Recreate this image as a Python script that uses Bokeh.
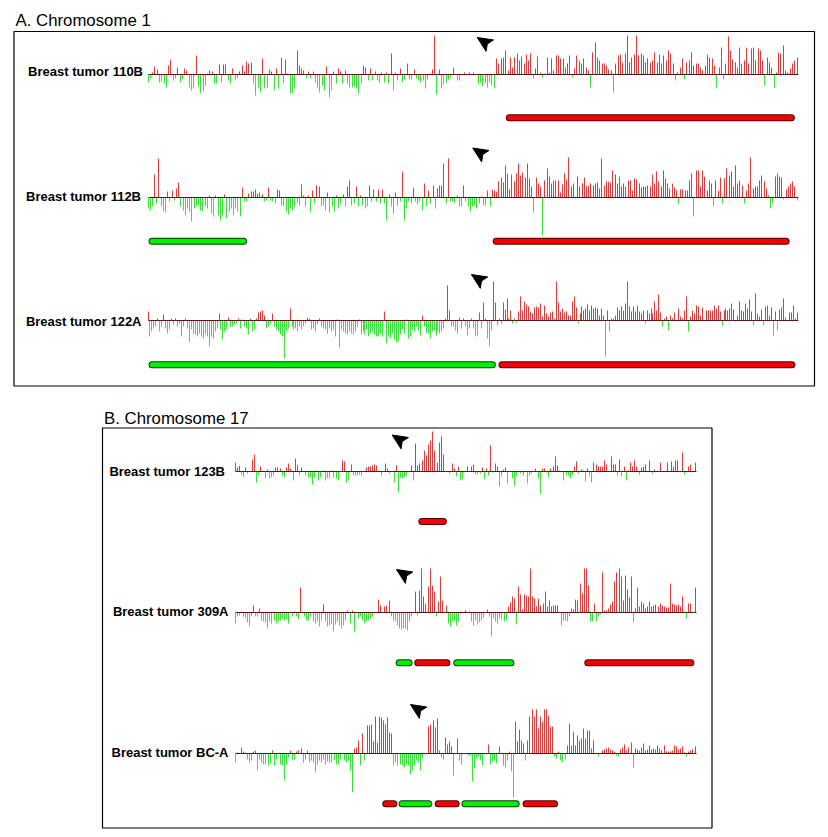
import numpy as np
from bokeh.plotting import figure
from bokeh.models import Range1d
from bokeh.embed import file_html
from bokeh.resources import INLINE
from bokeh.core.properties import value

# ------------------------------------------------------------------ data
panel_titles = ["A. Chromosome 1", "B. Chromosome 17"]
chrom_length_mb = [247.0, 79.0]

track_names = ["Breast tumor 110B", "Breast tumor 112B", "Breast tumor 122A",
               "Breast tumor 123B", "Breast tumor 309A", "Breast tumor BC-A"]
track_panel = [0, 0, 0, 1, 1, 1]

# copy-number signal per clone, ordered along the chromosome (display units)
ratio_110B = [
    -8,-4,2,8,5,-8,-7,-9,-13,9,15,-6,-4,7,-8,-5,6,4,-13,-16,-14,19,-12,-19,-17,-11,1,4,3,-9,
    -9,10,-8,10,10,-6,-9,6,-6,-4,3,9,3,13,11,12,-9,-21,-13,-18,16,-14,-13,5,3,-16,6,-14,17,-9,
    15,1,-19,-19,-13,24,9,6,4,-4,3,-4,3,-8,-13,-18,-11,-16,8,-23,-16,3,-9,6,3,-9,4,-9,-13,-13,
    -12,-14,-19,-9,9,7,-6,6,-6,3,-6,-8,2,-8,2,-9,21,-16,2,-6,6,-8,
    -5,11,-5,-5,5,-4,-6,-8,-6,-14,-5,1,5,39,-20,5,-14,-10,-8,-6,-3,7,0,-6,-6,0,2,0,2,0,
    2,0,-10,-8,-12,-9,-13,-8,-11,-14,
    16,11,16,17,24,4,17,7,17,21,14,18,11,20,14,21,-4,6,18,2,-3,1,17,2,16,4,19,19,16,16,
    7,11,19,-3,6,19,14,11,16,7,4,-13,22,32,17,14,11,11,9,5,4,-18,11,19,20,12,21,39,12,17,
    20,39,19,21,19,12,16,12,14,22,12,20,11,19,14,24,21,11,-6,2,7,16,-5,12,14,22,9,11,11,7,
    4,9,20,17,16,9,-14,7,27,-5,11,38,24,15,12,7,27,11,14,27,11,26,27,14,26,24,14,-11,17,12,
    7,-13,2,22,21,29,4,2,6,11,14,17]
ratio_112B = [
    -11,-13,-9,23,-6,39,-9,-14,-15,6,-4,7,-3,9,15,-9,-13,-18,-11,-14,-24,-11,-9,-8,-13,-14,-9,-11,2,-16,
    -19,2,-18,-23,-18,3,-21,-14,-11,-18,-11,-14,-19,10,-4,-4,4,6,6,8,4,5,3,-4,-3,10,-3,-4,-6,8,
    7,-8,-9,-14,-17,-11,-13,-9,-6,-8,13,2,-9,2,-14,7,-6,12,11,-9,-8,-13,5,-15,-9,-14,2,-11,-6,3,
    -9,11,17,-8,-6,11,-9,2,-8,-11,-9,12,-4,8,-4,8,-6,8,-6,-23,3,-9,-16,5,-8,-4,26,-23,-11,-4,
    -6,10,-4,
    -7,-4,-13,14,-9,7,-6,12,-11,9,12,12,34,-6,39,-4,-4,-6,2,-9,-9,12,-4,-9,-14,-9,-8,-11,-6,1,
    -8,-8,7,-9,8,7,6,
    16,20,15,32,24,8,23,16,24,34,22,25,20,34,19,11,-15,20,14,11,-38,17,29,21,14,17,17,17,5,13,
    24,18,40,11,14,-1,21,11,14,20,11,12,14,12,14,15,9,39,12,16,16,15,27,23,14,21,11,14,11,17,
    17,7,19,18,14,10,11,11,12,11,23,14,26,16,11,27,19,14,9,14,10,7,-6,8,8,7,7,17,24,-19,
    27,27,11,27,21,7,17,14,-9,17,7,20,-6,19,29,22,26,11,32,14,17,12,-6,7,14,40,9,11,11,17,
    22,16,9,2,-11,-6,21,24,21,20,-2,8,11,14,16,11,-3]
ratio_122A = [
    9,-16,-11,-8,-6,2,-11,-6,6,-8,-13,-9,2,-4,2,-6,-3,-16,-6,2,-8,-22,-9,-13,-14,-16,-13,-16,-18,-14,
    -16,-26,-16,-18,-11,-8,7,-9,-19,-11,-9,3,-6,-6,-4,-3,2,-8,1,-6,-8,-14,2,-11,-9,2,8,9,10,5,
    -8,-6,-3,7,-6,-9,-11,-14,-16,-38,-11,-8,12,-6,-9,-8,-11,-6,-9,-6,-3,3,2,-9,-8,-11,-4,2,-6,-8,
    -9,-13,-8,-11,-9,-16,1,-27,-9,-11,-13,-14,-11,-13,-14,-11,-6,1,-14,-11,-14,-9,-16,-13,-11,-14,-16,-16,-13,-16,
    9,-23,-16,-18,-13,-19,-22,-21,-14,-9,-13,1,-18,-16,-9,-11,-6,
    -10,-15,5,-6,-13,-13,-18,-11,-10,-15,-11,-13,-11,-8,2,35,10,-6,-6,-10,-13,3,-8,2,-6,-15,-8,2,-8,-16,
    -15,8,-8,18,2,-18,-26,-10,
    39,18,-5,2,-3,18,11,22,2,10,-3,2,-2,9,24,10,19,16,14,9,7,13,14,13,17,4,15,7,4,8,
    9,2,39,18,9,12,8,9,5,5,19,24,13,-3,7,14,10,12,16,10,15,12,13,12,5,12,5,-36,10,-11,
    2,2,5,13,10,14,10,17,39,14,9,14,9,15,9,7,10,-3,10,7,12,7,19,10,26,8,-6,2,4,-10,
    5,2,8,-1,12,4,2,10,24,-11,4,10,7,15,14,5,13,-1,10,10,10,10,15,12,15,9,-5,10,12,10,
    12,17,11,-1,5,19,10,9,17,12,21,9,-5,27,7,4,11,-5,14,15,5,13,-15,9,-10,11,13,22,3,-1,
    8,8,15,2,8]
ratio_123B = [
    9,4,6,-4,-6,4,-2,0,12,17,-11,-4,5,0,-7,2,-7,-6,-4,4,4,3,-4,-6,4,8,3,-9,13,6,
    -4,4,0,-4,-6,-6,-13,-6,1,-9,-6,1,-9,-7,-7,1,-6,-7,-9,0,11,10,-11,-9,7,-4,-4,-4,-3,-4,
    0,4,5,5,6,7,6,1,-4,0,8,3,-2,0,-11,6,-21,-6,-7,-6,-4,0,6,-9,28,6,8,11,21,16,
    27,31,40,21,9,29,35,17,0,0,-2,8,
    3,-5,5,-9,-8,-1,5,0,5,7,-3,-3,-2,4,-8,3,-4,26,-1,8,5,-15,-5,2,4,-12,0,-7,-14,-5,
    0,-2,-4,0,-12,-4,-2,0,3,-7,-22,3,3,-1,-6,3,5,15,6,1,0,-9,-4,-4,-7,-3,5,10,-2,2,
    1,-10,3,-4,-11,9,7,5,5,5,11,7,0,15,7,7,-4,12,-5,5,-9,1,9,5,11,5,-3,4,5,7,
    0,11,-2,2,0,0,9,0,0,9,0,10,5,11,11,0,19,-3,-1,5,7,-1,9]
ratio_309A = [
    -11,-4,-3,1,-4,-6,-10,-14,-4,7,-4,-4,4,-8,-9,-10,-16,-9,-11,-8,-11,-9,-8,-6,-8,-7,-11,0,-4,1,
    -4,-7,25,0,-4,-8,-8,-4,-9,-11,-9,-14,-8,8,-9,-14,-13,-11,-19,-12,-9,-13,-16,-13,-8,2,-11,2,-19,0,
    -6,-4,-8,-11,-9,-8,-6,-4,0,0,13,7,0,6,7,12,-4,-8,-9,-13,-16,-17,-16,-16,-18,-9,-4,0,21,-3,
    22,44,16,9,26,44,27,21,-4,11,36,12,0,7,
    -11,-14,-9,-8,-13,-9,1,-1,2,0,1,-9,-13,-8,-12,-10,-8,-5,0,3,-4,-24,-6,-9,-11,-6,-7,-9,-8,6,
    10,16,14,-12,26,18,3,18,17,16,44,16,14,6,14,7,9,21,6,12,6,7,7,7,0,-13,-8,-8,-9,-4,
    4,3,13,12,29,19,44,44,27,-9,-9,9,-9,-4,-2,40,2,2,4,8,11,31,40,44,36,12,37,23,15,36,
    -10,4,25,6,11,9,4,6,11,6,7,8,6,9,7,6,5,5,29,9,8,7,8,6,16,1,-6,9,9,0,
    25]
ratio_BCA = [
    -9,1,0,6,2,1,-6,-9,-7,2,3,-17,-6,-9,-11,-11,-12,-10,3,-12,-6,0,-11,-12,-27,-11,-4,3,-7,-6,
    2,3,5,-9,-6,3,-9,-7,-9,-19,-11,-7,-9,-6,-11,-8,-9,-9,-7,-11,-11,-6,0,-7,-9,-7,-17,-39,5,6,
    13,-12,20,-7,28,28,29,12,37,11,37,36,33,29,36,21,20,-12,-9,-12,-11,-12,-14,-11,-12,-21,-17,-12,-7,-9,
    -17,-4,0,0,27,29,33,26,35,3,-4,-6,16,9,
    12,7,-22,0,15,-7,-11,0,0,-2,-2,-28,-15,-5,-3,-7,-12,0,0,9,-11,-8,-7,-10,7,0,-12,-14,-7,2,
    -18,-44,32,12,24,13,10,-7,13,37,44,37,44,25,37,32,44,44,37,27,27,-3,-5,2,-7,-9,-6,8,30,8,
    22,8,18,13,15,25,15,23,23,5,13,0,-3,0,3,4,5,6,4,3,2,-2,-3,4,6,9,3,6,11,-14,
    5,4,3,6,10,3,4,8,4,5,4,8,5,3,8,2,2,2,3,8,7,4,5,7,1,-3,2,3,4,7]

# called segments (Mb from pter); "gain" = red, "loss" = green
seg_110B_start = [136.0];              seg_110B_end = [246.0];              seg_110B_type = ["gain"]
seg_112B_start = [0.0, 131.0];         seg_112B_end = [37.5, 244.0];        seg_112B_type = ["loss", "gain"]
seg_122A_start = [0.0, 133.2];         seg_122A_end = [132.2, 246.2];       seg_122A_type = ["loss", "gain"]
seg_123B_start = [31.4];               seg_123B_end = [36.3];               seg_123B_type = ["gain"]
seg_309A_start = [27.5, 30.7, 37.4, 59.9]
seg_309A_end   = [30.4, 36.9, 47.9, 78.8]
seg_309A_type  = ["loss", "gain", "loss", "gain"]
seg_BCA_start = [25.2, 28.0, 34.2, 38.8, 49.3]
seg_BCA_end   = [27.8, 33.8, 38.5, 48.8, 55.4]
seg_BCA_type  = ["gain", "loss", "gain", "loss", "gain"]

# position (Mb) of the marker arrow of each tumour
arrow_mb = [125.1, 123.4, 122.9, 26.9, 27.65, 30.05]

ratios = [ratio_110B, ratio_112B, ratio_122A, ratio_123B, ratio_309A, ratio_BCA]
segs = [(seg_110B_start, seg_110B_end, seg_110B_type),
        (seg_112B_start, seg_112B_end, seg_112B_type),
        (seg_122A_start, seg_122A_end, seg_122A_type),
        (seg_123B_start, seg_123B_end, seg_123B_type),
        (seg_309A_start, seg_309A_end, seg_309A_type),
        (seg_BCA_start, seg_BCA_end, seg_BCA_type)]

# ------------------------------------------------------------------ layout / style
W, H = 820, 829
panel_box = [(13.5, 31.0, 814.0, 385.5), (102.0, 427.5, 711.5, 827.5)]   # l, t, r, b
title_xy = [(15.0, 20.0), (103.5, 418.0)]
track_x = [(148.0, 797.0)] * 3 + [(235.0, 695.0)] * 3
track_base = [74, 197, 320, 471, 612, 753]
label_xy = [(142.5, 71.0), (140.5, 196.0), (141.0, 320.5),
            (224.5, 471.0), (228.0, 611.0), (228.0, 752.0)]
seg_y = [117.3, 240.7, 364.3, 521.0, 662.3, 803.3]
arrow_tip_dy = [-37.0, -49.5, -46.0, -36.5, -43.0, -49.0]
SCALE = 1.0
RED, GREEN = "#e03a3a", "#3ee03e"
BASE_COL = "#5a1818"
SEG_FILL = {"gain": "#f50000", "loss": "#00ee00"}
SEG_EDGE = {"gain": "#4a0000", "loss": "#0a3a0a"}
CAP_W = 7
ARROW_LEN, ARROW_HALF, ARROW_NOTCH, ARROW_ANG = 15.0, 6.8, 0.8, 33.0

p = figure(width=W, height=H, x_range=Range1d(0, W), y_range=Range1d(H, 0),
           x_axis_type=None, y_axis_type=None, output_backend="svg",
           toolbar_location=None, min_border=0)
p.grid.visible = False
p.outline_line_color = None
p.background_fill_color = "white"

# panel frames and titles
for (l, t, r, b) in panel_box:
    p.quad(left=l, right=r, top=t, bottom=b, fill_alpha=0, line_color="black", line_width=1.2)
p.text(x=[xy[0] for xy in title_xy], y=[xy[1] for xy in title_xy], text=panel_titles,
       text_font=value("Liberation Sans"), text_font_size="16.8px", text_color="black",
       text_baseline="middle", text_align="left")

arrow_xs, arrow_ys = [], []
for k, vals in enumerate(ratios):
    v = np.array(vals, dtype=float)
    x0, x1 = track_x[k]
    n = len(v)
    xs = np.floor(x0 + np.arange(n) * (x1 - x0) / (n - 1))
    base = track_base[k]
    pos = v > 0
    neg = v < 0
    p.segment(x0=xs[pos], x1=xs[pos], y0=base, y1=base - v[pos] * SCALE,
              line_color=RED, line_width=1)
    p.segment(x0=xs[neg], x1=xs[neg], y0=base, y1=base - v[neg] * SCALE,
              line_color=GREEN, line_width=1)
    p.segment(x0=[x0], x1=[x1 + 1], y0=[base], y1=[base],
              line_color=BASE_COL, line_width=1)

    L = chrom_length_mb[track_panel[k]]
    px_per_mb = (x1 - x0) / L
    st, en, ty = segs[k]
    for s, e, t in zip(st, en, ty):
        xa = x0 + s * px_per_mb + CAP_W / 2
        xb = x0 + e * px_per_mb - CAP_W / 2
        p.line([xa, xb], [seg_y[k]] * 2, line_color=SEG_EDGE[t], line_width=CAP_W,
               line_cap="round")
        p.line([xa, xb], [seg_y[k]] * 2, line_color=SEG_FILL[t], line_width=CAP_W - 2,
               line_cap="round")

    # marker arrowhead (tip at the marker, pointing up-left)
    tipx = x0 + arrow_mb[k] * px_per_mb
    tipy = base + arrow_tip_dy[k]
    a = np.deg2rad(ARROW_ANG)
    ux, uy = np.cos(a), np.sin(a)          # from tip towards the back
    nx, ny = -uy, ux
    bx, by = tipx + ARROW_LEN * ux, tipy + ARROW_LEN * uy
    mx, my = tipx + ARROW_LEN * ARROW_NOTCH * ux, tipy + ARROW_LEN * ARROW_NOTCH * uy
    arrow_xs.append([tipx, bx + ARROW_HALF * nx, mx, bx - ARROW_HALF * nx])
    arrow_ys.append([tipy, by + ARROW_HALF * ny, my, by - ARROW_HALF * ny])

p.patches(xs=arrow_xs, ys=arrow_ys, fill_color="black", line_color="black", line_width=1)

p.text(x=[xy[0] for xy in label_xy], y=[xy[1] for xy in label_xy], text=track_names,
       text_font=value("Liberation Sans"), text_font_size="13px", text_font_style="bold",
       text_color="black", text_align="right", text_baseline="middle")

open("out.html", "w").write(file_html(p, INLINE))
